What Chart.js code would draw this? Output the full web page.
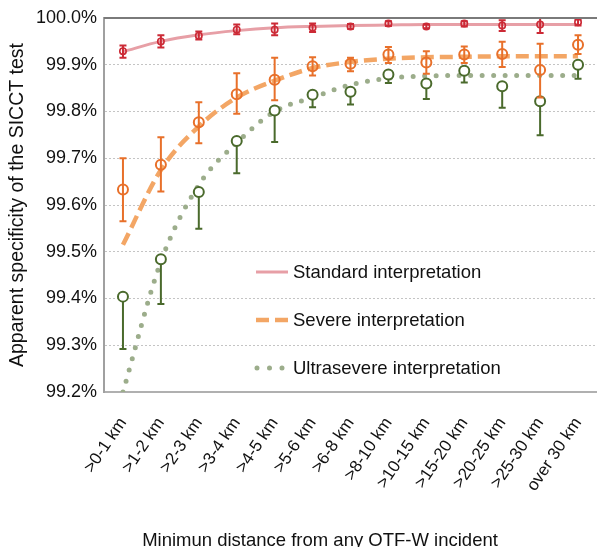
<!DOCTYPE html>
<html><head><meta charset="utf-8">
<script src="https://cdn.jsdelivr.net/npm/chart.js@4.4.0/dist/chart.umd.min.js"></script>
<style>html,body{margin:0;padding:0;background:#fff}#wrap{width:597px;height:547px}</style>
</head><body><div id="wrap"><canvas id="c" width="597" height="547"></canvas></div>
<script>
const categories = [">0-1 km", ">1-2 km", ">2-3 km", ">3-4 km", ">4-5 km", ">5-6 km", ">6-8 km", ">8-10 km", ">10-15 km", ">15-20 km", ">20-25 km", ">25-30 km", "over 30 km"];
const seriesNames = ["Standard interpretation", "Severe interpretation", "Ultrasevere interpretation"];
const yTicks = [99.2, 99.3, 99.4, 99.5, 99.6, 99.7, 99.8, 99.9, 100.0];
const yTitle = "Apparent specificity of the SICCT test";
const xTitle = "Minimun distance from any OTF-W incident";

const standardObs  = [99.929, 99.950, 99.962, 99.975, 99.975, 99.979, 99.982, 99.988, 99.982, 99.988, 99.984, 99.986, 99.991];
const standardLow  = [99.915, 99.937, 99.954, 99.965, 99.963, 99.970, 99.977, 99.983, 99.978, 99.982, 99.972, 99.968, 99.984];
const standardHigh = [99.941, 99.963, 99.971, 99.986, 99.988, 99.988, 99.987, 99.993, 99.986, 99.993, 99.995, 100.0, 99.997];

const severeObs  = [99.633, 99.686, 99.777, 99.837, 99.868, 99.897, 99.902, 99.922, 99.905, 99.922, 99.923, 99.889, 99.943];
const severeLow  = [99.565, 99.629, 99.732, 99.795, 99.824, 99.877, 99.886, 99.904, 99.881, 99.904, 99.895, 99.830, 99.923];
const severeHigh = [99.700, 99.745, 99.820, 99.882, 99.915, 99.916, 99.915, 99.938, 99.929, 99.939, 99.949, 99.945, 99.963];

const ultraObs = [99.404, 99.484, 99.628, 99.737, 99.802, 99.836, 99.842, 99.879, 99.860, 99.887, 99.854, 99.822, 99.900];
const ultraLow = [99.292, 99.388, 99.549, 99.668, 99.735, 99.809, 99.815, 99.861, 99.827, 99.862, 99.808, 99.749, 99.870];

const standardFit = [99.928, 99.950, 99.964, 99.973, 99.979, 99.982, 99.984, 99.985, 99.986, 99.986, 99.986, 99.986, 99.986];
const severeFit   = [99.515, 99.675, 99.768, 99.830, 99.866, 99.893, 99.906, 99.913, 99.916, 99.917, 99.918, 99.918, 99.918];
const ultraFit    = [99.200, 99.479, 99.643, 99.733, 99.800, 99.830, 99.857, 99.871, 99.876, 99.877, 99.877, 99.877, 99.877];

const FONT = "'Liberation Sans', Arial, Helvetica, sans-serif";
const COL = {
  stdPt: '#cc2a36', stdLine: '#e79fa6',
  sevPt: '#e8702a', sevLine: '#f3a665',
  ultPt: '#4a6a2c', ultLine: '#9cad8b'
};

const errorBars = {
  id: 'errorBars',
  beforeDatasetDraw(chart, args) {
    const ds = chart.data.datasets[args.index];
    if (!ds.errLow) return;
    const ctx = chart.ctx, ys = chart.scales.y;
    const meta = args.meta;
    ctx.save();
    ctx.strokeStyle = ds.pointBorderColor;
    ctx.lineWidth = 2;
    meta.data.forEach((pt, i) => {
      const x = pt.x;
      const yl = ys.getPixelForValue(ds.errLow[i]);
      const yh = ds.errHigh ? ys.getPixelForValue(ds.errHigh[i]) : pt.y;
      ctx.beginPath();
      ctx.moveTo(x, yh); ctx.lineTo(x, yl);
      ctx.moveTo(x - 3.5, yl); ctx.lineTo(x + 3.5, yl);
      if (ds.errHigh) { ctx.moveTo(x - 3.5, yh); ctx.lineTo(x + 3.5, yh); }
      ctx.stroke();
    });
    ctx.restore();
  }
};

const frameAndText = {
  id: 'frameAndText',
  afterDraw(chart) {
    const ctx = chart.ctx, a = chart.chartArea;
    ctx.save();
    ctx.strokeStyle = '#7a7a7a'; ctx.lineWidth = 2;
    ctx.beginPath(); ctx.moveTo(a.left, a.top); ctx.lineTo(a.right, a.top); ctx.stroke();
    const rows = [272, 320, 368];
    const x0 = 256, x1 = 288;
    ctx.lineCap = 'butt';
    ctx.strokeStyle = COL.stdLine; ctx.lineWidth = 3; ctx.setLineDash([]);
    ctx.beginPath(); ctx.moveTo(x0, rows[0]); ctx.lineTo(x1, rows[0]); ctx.stroke();
    ctx.strokeStyle = COL.sevLine; ctx.lineWidth = 4.5; ctx.setLineDash([13, 6]);
    ctx.beginPath(); ctx.moveTo(x0, rows[1]); ctx.lineTo(x1, rows[1]); ctx.stroke();
    ctx.strokeStyle = COL.ultLine; ctx.lineWidth = 5; ctx.lineCap = 'round'; ctx.setLineDash([0, 12.5]);
    ctx.beginPath(); ctx.moveTo(x0 + 1, rows[2]); ctx.lineTo(x1 + 2, rows[2]); ctx.stroke();
    ctx.setLineDash([]);
    ctx.fillStyle = '#111';
    ctx.font = '18.5px ' + FONT;
    ctx.textBaseline = 'middle'; ctx.textAlign = 'left';
    seriesNames.forEach((n, i) => ctx.fillText(n, 293, rows[i] + 1));
    ctx.textAlign = 'center'; ctx.textBaseline = 'alphabetic';
    ctx.fillText(xTitle, 320, 546);
    ctx.restore();
  }
};

new Chart(document.getElementById('c'), {
  type: 'line',
  data: {
    labels: categories,
    datasets: [
      { label: seriesNames[0] + ' obs', data: standardObs, showLine: false, order: 0,
        pointRadius: 3.2, pointBorderWidth: 1.6, pointBorderColor: COL.stdPt, pointBackgroundColor: 'rgba(0,0,0,0)',
        errLow: standardLow, errHigh: standardHigh },
      { label: seriesNames[1] + ' obs', data: severeObs, showLine: false, order: 0,
        pointRadius: 5, pointBorderWidth: 2, pointBorderColor: COL.sevPt, pointBackgroundColor: 'rgba(0,0,0,0)',
        errLow: severeLow, errHigh: severeHigh },
      { label: seriesNames[2] + ' obs', data: ultraObs, showLine: false, order: 0,
        pointRadius: 5, pointBorderWidth: 2, pointBorderColor: COL.ultPt, pointBackgroundColor: '#ffffff',
        errLow: ultraLow },
      { label: seriesNames[0], data: standardFit, order: 1, pointRadius: 0, borderColor: COL.stdLine,
        borderWidth: 3, cubicInterpolationMode: 'monotone', fill: false },
      { label: seriesNames[1], data: severeFit, order: 1, pointRadius: 0, borderColor: COL.sevLine,
        borderWidth: 4.5, borderDash: [13, 6], cubicInterpolationMode: 'monotone', fill: false },
      { label: seriesNames[2], data: ultraFit, order: 1, pointRadius: 0, borderColor: COL.ultLine,
        borderWidth: 5, borderDash: [0, 11.5], borderCapStyle: 'round', cubicInterpolationMode: 'monotone', fill: false }
    ]
  },
  options: {
    responsive: false, animation: false, devicePixelRatio: 1,
    layout: { autoPadding: false, padding: { top: 18, right: 0, left: 0, bottom: 0 } },
    plugins: { legend: { display: false }, tooltip: { enabled: false } },
    scales: {
      x: {
        offset: true,
        grid: { display: false, drawTicks: false },
        border: { display: true, color: '#b0b0b0', width: 2 },
        ticks: { autoSkip: false, minRotation: 56, maxRotation: 56, padding: 22, color: '#111',
                 font: { family: FONT, size: 17 } },
        afterFit(s) { s.height = 155; s.paddingRight = 0; s.paddingLeft = 0; }
      },
      y: {
        min: 99.2, max: 100.0,
        afterBuildTicks(s) { s.ticks = yTicks.map(v => ({ value: v })); },
        grid: { color: '#c4c4c4', lineWidth: 1, drawTicks: false },
        border: { display: true, color: '#a0a0a0', width: 2, dash: [2, 2] },
        ticks: { padding: 7, color: '#111', font: { family: FONT, size: 18 },
                 callback: v => v.toFixed(1) + '%' },
        title: { display: true, text: yTitle, color: '#111', font: { family: FONT, size: 19.5 },
                 padding: { top: 6, bottom: 0 } },
        afterFit(s) { s.width = 104; s.paddingTop = 0; s.paddingBottom = 0; }
      }
    }
  },
  plugins: [errorBars, frameAndText]
});
</script></body></html>
